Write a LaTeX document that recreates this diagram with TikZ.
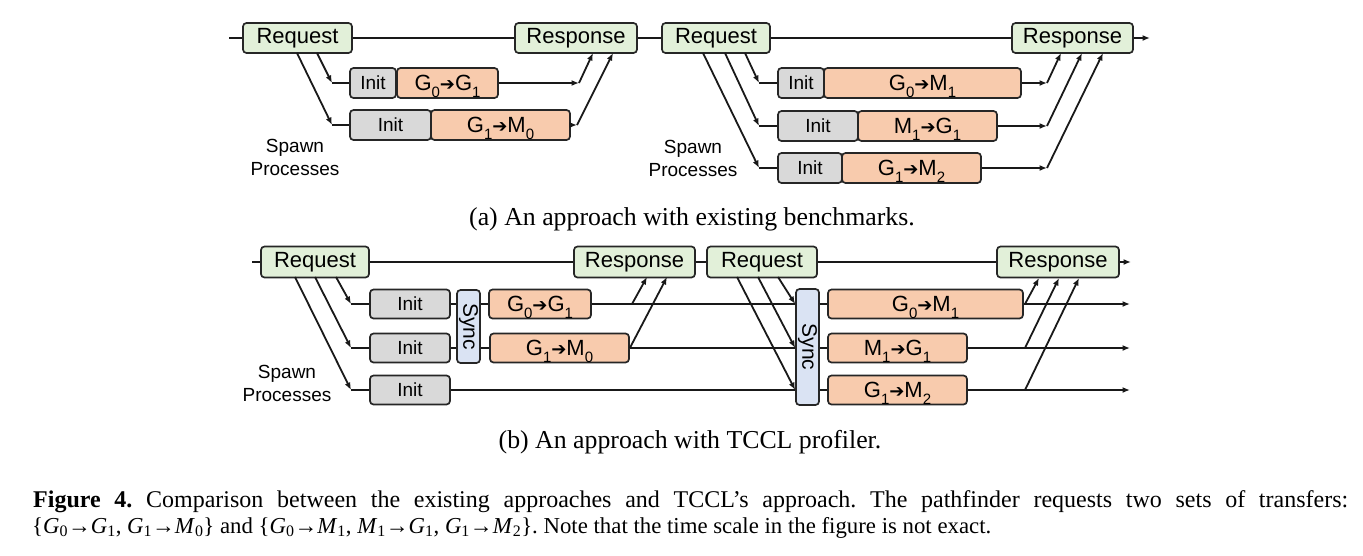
\documentclass[tikz,border=0pt]{standalone}
\usepackage{fontspec}
\setmainfont{Liberation Serif}
\newfontfamily\arial{Liberation Sans}
\newfontfamily\dejavu{DejaVu Sans}
\usetikzlibrary{arrows.meta}
\definecolor{reqgreen}{HTML}{E2F0D9}
\definecolor{xfer}{HTML}{F8CBAD}
\definecolor{initgray}{HTML}{D9D9D9}
\definecolor{syncblue}{HTML}{DAE3F3}
\newcommand\lowsub[1]{\raisebox{-0.3em}[0pt][0pt]{\fontsize{15}{15}\selectfont #1}}
\newcommand\tr[4]{#1\lowsub{#2}{\dejavu\fontsize{18}{18}\selectfont ➔}#3\lowsub{#4}}
\newcommand\ig[1]{\textit{#1}}
\frenchspacing
\begin{document}
\begin{tikzpicture}[x=1pt,y=-1pt,
  box/.style={draw=black!85, line width=1.7pt, rounded corners=3.5pt, inner sep=0pt, font=\arial\fontsize{19}{19}\selectfont},
  reqbox/.style={box, fill=reqgreen, minimum height=30pt, font=\arial\fontsize{22}{22}\selectfont},
  initbox/.style={box, fill=initgray, minimum height=30pt},
  xferbox/.style={box, fill=xfer, minimum height=30pt, font=\arial\fontsize{22}{22}\selectfont},
  syncbox/.style={box, fill=syncblue, minimum width=23pt, font=\arial\fontsize{21}{21}\selectfont},
  ln/.style={line width=1.8pt, draw=black!90},
  arr/.style={ln, -{Latex[length=7.5pt,width=6pt]}},
  spawn/.style={align=center, inner sep=0pt, font=\arial\fontsize{19}{23}\selectfont},
  subcap/.style={anchor=base, inner sep=0pt, font=\fontsize{25.8}{25.8}\selectfont},
  figcap/.style={anchor=base west, inner sep=0pt, font=\fontsize{22.8}{22.8}\selectfont}]
\useasboundingbox (0,0) rectangle (1363,555);

% ---------------- panel (a) ----------------
\node[reqbox, minimum width=109pt] (reqA) at (297.5,38) {Request};
\node[reqbox, minimum width=122pt] (resA) at (576,38) {Response};
\node[reqbox, minimum width=108pt] (reqB) at (716,38) {Request};
\node[reqbox, minimum width=121pt] (resB) at (1072.5,38) {Response};
\coordinate (a0) at (229,38);
\coordinate (aend) at (1150,38);
\draw[ln] (a0) -- (reqA);
\draw[ln] (reqA) -- (resA);
\draw[ln] (resA) -- (reqB);
\draw[ln] (reqB) -- (resB);
\draw[arr] (resB) -- (aend);

% left rows
\node[initbox, minimum width=46pt] (iA1) at (373,83) {Init};
\node[xferbox, minimum width=101pt] (tA1) at (447.5,83) {\tr{G}{0}{G}{1}};
\node[initbox, minimum width=81pt] (iA2) at (390.5,125) {Init};
\node[xferbox, minimum width=139pt] (tA2) at (500.5,125) {\tr{G}{1}{M}{0}};
\coordinate (sA1) at (317,53); \coordinate (cA1) at (332,83);
\coordinate (sA2) at (297,53); \coordinate (cA2) at (332,125);
\coordinate (eA1) at (579,83); \coordinate (rA1) at (593,53);
\coordinate (eA2) at (577,125); \coordinate (rA2) at (613,53);
\draw[arr] (sA1) -- (cA1);
\draw[arr] (sA2) -- (cA2);
\draw[ln] (cA1) -- (iA1);
\draw[ln] (cA2) -- (iA2);
\draw[arr] (tA1) -- (eA1);
\draw[arr] (tA2) -- (eA2);
\draw[arr] (eA1) -- (rA1);
\draw[arr] (eA2) -- (rA2);
\node[spawn] (spA) at (295,157.5) {Spawn\\Processes};

% right rows
\node[initbox, minimum width=46pt] (iB1) at (801,83) {Init};
\node[xferbox, minimum width=197pt] (tB1) at (922.5,83) {\tr{G}{0}{M}{1}};
\node[initbox, minimum width=80pt] (iB2) at (818,126) {Init};
\node[xferbox, minimum width=139pt] (tB2) at (927.5,126) {\tr{M}{1}{G}{1}};
\node[initbox, minimum width=64pt] (iB3) at (810,168) {Init};
\node[xferbox, minimum width=139pt] (tB3) at (911.5,168) {\tr{G}{1}{M}{2}};
\coordinate (sB1) at (745,53); \coordinate (cB1) at (759,83);
\coordinate (sB2) at (725,53); \coordinate (cB2) at (759,126);
\coordinate (sB3) at (703,53); \coordinate (cB3) at (759,168);
\coordinate (eB1) at (1047,83); \coordinate (rB1) at (1061,53);
\coordinate (eB2) at (1047,126); \coordinate (rB2) at (1082,53);
\coordinate (eB3) at (1047,168); \coordinate (rB3) at (1103,53);
\draw[arr] (sB1) -- (cB1);
\draw[arr] (sB2) -- (cB2);
\draw[arr] (sB3) -- (cB3);
\draw[ln] (cB1) -- (iB1);
\draw[ln] (cB2) -- (iB2);
\draw[ln] (cB3) -- (iB3);
\draw[arr] (tB1) -- (eB1);
\draw[arr] (tB2) -- (eB2);
\draw[arr] (tB3) -- (eB3);
\draw[arr] (eB1) -- (rB1);
\draw[arr] (eB2) -- (rB2);
\draw[arr] (eB3) -- (rB3);
\node[spawn] (spB) at (693,158) {Spawn\\Processes};

\node[subcap] (capa) at (692,225) {(a) An approach with existing benchmarks.};

% ---------------- panel (b) ----------------
\node[reqbox, minimum width=108pt, minimum height=31pt] (reqC) at (315,262) {Request};
\node[reqbox, minimum width=121pt, minimum height=31pt] (resC) at (634.5,262) {Response};
\node[reqbox, minimum width=110pt, minimum height=31pt] (reqD) at (762,262) {Request};
\node[reqbox, minimum width=122pt, minimum height=31pt] (resD) at (1058,262) {Response};
\coordinate (b0) at (252,262);
\coordinate (bend) at (1131,262);
\draw[ln] (b0) -- (reqC);
\draw[ln] (reqC) -- (resC);
\draw[ln] (resC) -- (reqD);
\draw[ln] (reqD) -- (resD);
\draw[arr] (resD) -- (bend);

% left part
\node[initbox, minimum width=80pt, minimum height=29pt] (iC1) at (410,304) {Init};
\node[initbox, minimum width=80pt, minimum height=29pt] (iC2) at (410,348) {Init};
\node[initbox, minimum width=80pt, minimum height=29pt] (iC3) at (410,390) {Init};
\node[syncbox, minimum height=73pt] (syC) at (468.5,326.5) {\rotatebox{-90}{Sync}};
\node[xferbox, minimum width=102pt, minimum height=29pt] (tC1) at (540,304) {\tr{G}{0}{G}{1}};
\node[xferbox, minimum width=139pt, minimum height=29pt] (tC2) at (559.5,348) {\tr{G}{1}{M}{0}};
\coordinate (sC1) at (336,277); \coordinate (cC1) at (351,304);
\coordinate (sC2) at (315,277); \coordinate (cC2) at (351,348);
\coordinate (sC3) at (295,277); \coordinate (cC3) at (351,390);
\draw[arr] (sC1) -- (cC1);
\draw[arr] (sC2) -- (cC2);
\draw[arr] (sC3) -- (cC3);
\draw[ln] (cC1) -- (iC1);
\draw[ln] (cC2) -- (iC2);
\draw[ln] (cC3) -- (iC3);
\draw[ln] (iC1) -- (iC1 -| syC.west);
\draw[ln] (iC2) -- (iC2 -| syC.west);
\draw[ln] (tC1 -| syC.east) -- (tC1);
\draw[ln] (tC2 -| syC.east) -- (tC2);
\node[spawn] (spC) at (287,383) {Spawn\\Processes};

% sync 2 and right part
\node[syncbox, minimum height=116pt] (syD) at (807.5,347) {\rotatebox{-90}{Sync}};
\node[xferbox, minimum width=195pt, minimum height=29pt] (tD1) at (925.5,304) {\tr{G}{0}{M}{1}};
\node[xferbox, minimum width=139pt, minimum height=29pt] (tD2) at (897.5,348) {\tr{M}{1}{G}{1}};
\node[xferbox, minimum width=139pt, minimum height=29pt] (tD3) at (897.5,390) {\tr{G}{1}{M}{2}};
\draw[ln] (tC1) -- (tC1 -| syD.west);
\draw[ln] (tC2) -- (tC2 -| syD.west);
\draw[ln] (iC3) -- (iC3 -| syD.west);
\coordinate (sD1) at (778,277); \coordinate (sD2) at (758,277); \coordinate (sD3) at (737,277);
\draw[arr] (sD1) -- (syD.west |- tD1);
\draw[arr] (sD2) -- (syD.west |- tD2);
\draw[arr] (sD3) -- (syD.west |- tD3);
\draw[ln] (syD.east |- tD1) -- (tD1);
\draw[ln] (syD.east |- tD2) -- (tD2);
\draw[ln] (syD.east |- tD3) -- (tD3);
\coordinate (fD1) at (1130,304); \coordinate (fD2) at (1130,348); \coordinate (fD3) at (1130,390);
\draw[arr] (tD1) -- (fD1);
\draw[arr] (tD2) -- (fD2);
\draw[arr] (tD3) -- (fD3);
% diagonals to responses
\coordinate (uC1) at (632,304); \coordinate (vC1) at (647,277);
\coordinate (vC2) at (667,277);
\draw[arr] (uC1) -- (vC1);
\draw[arr] (tC2.east) -- (vC2);
\coordinate (uD1) at (1025,304); \coordinate (vD1) at (1039,278);
\coordinate (uD2) at (1025,348); \coordinate (vD2) at (1059,278);
\coordinate (uD3) at (1025,390); \coordinate (vD3) at (1079,278);
\draw[arr] (uD1) -- (vD1);
\draw[arr] (uD2) -- (vD2);
\draw[arr] (uD3) -- (vD3);

\node[subcap] (capb) at (690,448) {(b) An approach with TCCL profiler.};

% ---------------- caption ----------------
\node[figcap, font=\fontsize{24}{24}\selectfont] (cap1) at (33,507) {\makebox[1315pt][s]{\textbf{Figure 4.} Comparison between the existing approaches and TCCL’s approach. The pathfinder requests two sets of transfers:}};
\node[figcap] (cap2) at (32,533) {\{\ig{G}\textsubscript{0}→\ig{G}\textsubscript{1}, \ig{G}\textsubscript{1}→\ig{M}\textsubscript{0}\} and \{\ig{G}\textsubscript{0}→\ig{M}\textsubscript{1}, \ig{M}\textsubscript{1}→\ig{G}\textsubscript{1}, \ig{G}\textsubscript{1}→\ig{M}\textsubscript{2}\}. Note that the time scale in the figure is not exact.};
\end{tikzpicture}
\end{document}
